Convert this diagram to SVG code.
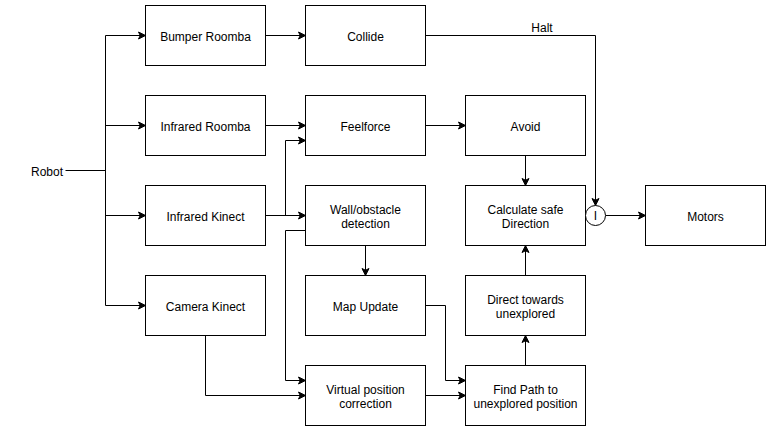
<svg xmlns="http://www.w3.org/2000/svg" width="771" height="431" viewBox="0 0 771 431">
<style>
.box{fill:#fff;stroke:#000;stroke-width:1}
.t{font-family:"Liberation Sans",Arial,Helvetica,sans-serif;font-size:12px;fill:#000;text-anchor:middle}
.c{fill:none;stroke:#000;stroke-width:1}
.a{marker-end:url(#arr)}
</style>
<defs>
<marker id="arr" markerUnits="userSpaceOnUse" markerWidth="10" markerHeight="10" viewBox="-8 -5 10 10" refX="0" refY="0" orient="auto">
<path d="M0,0 L-7,-3.5 L-5.25,0 L-7,3.5 Z" fill="#000" stroke="#000" stroke-width="1"/>
</marker>
</defs>
<rect width="771" height="431" fill="#fff"/>
<g id="connectors">
<path class="c" d="M65.5,170.5 H105.5"/>
<path class="c" d="M105.5,35.5 V305.5"/>
<path class="c a" d="M105.5,35.5 H145.5"/>
<path class="c a" d="M105.5,125.5 H145.5"/>
<path class="c a" d="M105.5,215.5 H145.5"/>
<path class="c a" d="M105.5,305.5 H145.5"/>
<path class="c a" d="M265.5,35.5 H305.5"/>
<path class="c a" d="M425.5,35.5 H595.5 V205.5"/>
<path class="c a" d="M265.5,125.5 H305.5"/>
<path class="c a" d="M265.5,215.5 H305.5"/>
<path class="c a" d="M285.5,215.5 V140.5 H305.5"/>
<path class="c a" d="M305.5,230.5 H285.5 V380.5 H305.5"/>
<path class="c a" d="M365.5,245.5 V275.5"/>
<path class="c a" d="M205.5,335.5 V395.5 H305.5"/>
<path class="c a" d="M425.5,395.5 H465.5"/>
<path class="c a" d="M425.5,305.5 H445.5 V380.5 H465.5"/>
<path class="c a" d="M525.5,365.5 V335.5"/>
<path class="c a" d="M525.5,275.5 V245.5"/>
<path class="c a" d="M425.5,125.5 H465.5"/>
<path class="c a" d="M525.5,155.5 V185.5"/>
<path class="c a" d="M605.5,215.5 H645.5"/>
<text class="t" x="542" y="32">Halt</text>
</g>
<g id="robot"><text class="t" x="47" y="176">Robot</text></g>
<g id="bumper"><rect class="box" x="145.5" y="5.5" width="120" height="60"/><text class="t" x="205.5" y="41">Bumper Roomba</text></g>
<g id="collide"><rect class="box" x="305.5" y="5.5" width="120" height="60"/><text class="t" x="365.5" y="41">Collide</text></g>
<g id="irroomba"><rect class="box" x="145.5" y="95.5" width="120" height="60"/><text class="t" x="205.5" y="131">Infrared Roomba</text></g>
<g id="feelforce"><rect class="box" x="305.5" y="95.5" width="120" height="60"/><text class="t" x="365.5" y="131">Feelforce</text></g>
<g id="avoid"><rect class="box" x="465.5" y="95.5" width="120" height="60"/><text class="t" x="525.5" y="131">Avoid</text></g>
<g id="irkinect"><rect class="box" x="145.5" y="185.5" width="120" height="60"/><text class="t" x="205.5" y="221">Infrared Kinect</text></g>
<g id="wall"><rect class="box" x="305.5" y="185.5" width="120" height="60"/><text class="t" x="365.5" y="213.5">Wall/obstacle</text><text class="t" x="365.5" y="228">detection</text></g>
<g id="calc"><rect class="box" x="465.5" y="185.5" width="120" height="60"/><text class="t" x="525.5" y="213.5">Calculate safe</text><text class="t" x="525.5" y="228">Direction</text></g>
<g id="inhibit"><circle class="box" cx="595.5" cy="215.5" r="10"/><text class="t" x="595.5" y="220">I</text></g>
<g id="motors"><rect class="box" x="645.5" y="185.5" width="120" height="60"/><text class="t" x="705.5" y="221">Motors</text></g>
<g id="camkinect"><rect class="box" x="145.5" y="275.5" width="120" height="60"/><text class="t" x="205.5" y="311">Camera Kinect</text></g>
<g id="mapupdate"><rect class="box" x="305.5" y="275.5" width="120" height="60"/><text class="t" x="365.5" y="311">Map Update</text></g>
<g id="direct"><rect class="box" x="465.5" y="275.5" width="120" height="60"/><text class="t" x="525.5" y="303.5">Direct towards</text><text class="t" x="525.5" y="318">unexplored</text></g>
<g id="virtual"><rect class="box" x="305.5" y="365.5" width="120" height="60"/><text class="t" x="365.5" y="393.5">Virtual position</text><text class="t" x="365.5" y="408">correction</text></g>
<g id="findpath"><rect class="box" x="465.5" y="365.5" width="120" height="60"/><text class="t" x="525.5" y="393.5">Find Path to</text><text class="t" x="525.5" y="408">unexplored position</text></g>
</svg>
